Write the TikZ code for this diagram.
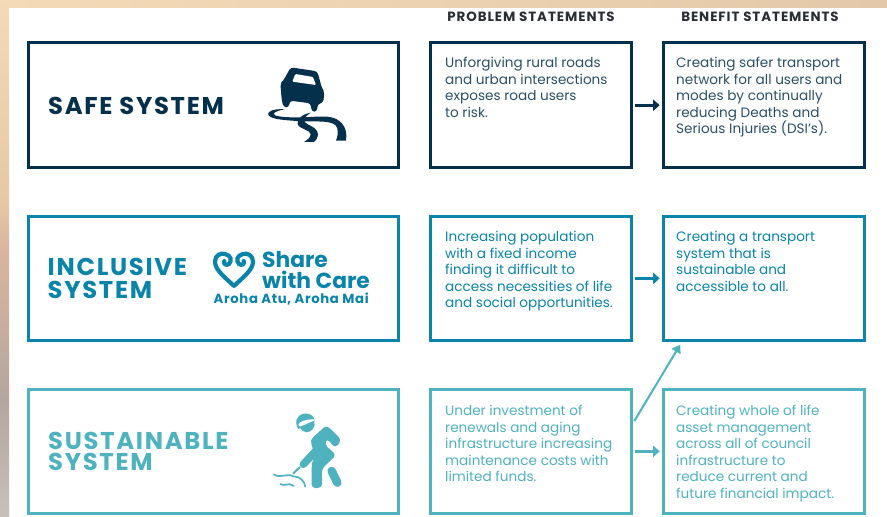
\documentclass[tikz,border=0pt]{standalone}
\usepackage{fontspec}
\setmainfont{Poppins}
\newfontfamily\titlefont[LetterSpace=7]{Poppins}
\newfontfamily\arohafont[LetterSpace=5]{Poppins}
\newfontfamily\headfont[LetterSpace=7]{Poppins}
\usetikzlibrary{arrows.meta}
\definecolor{navy}{HTML}{05304B}
\definecolor{bluec}{HTML}{0A84A8}
\definecolor{tealc}{HTML}{4FB3BF}
\definecolor{headc}{HTML}{2A2E33}
\definecolor{bga}{HTML}{F5DAB8}
\definecolor{bgb}{HTML}{E3C9A9}
\definecolor{bgc}{HTML}{E6C8A4}
\definecolor{bgd}{HTML}{D9B5A0}
\definecolor{bge}{HTML}{B4A69E}
\definecolor{bgf}{HTML}{C8C0BA}
\tikzset{
 box/.style={draw=#1,line width=3pt,fill=white,inner sep=0pt,outer sep=0pt},
 wide/.style={box=#1,minimum width=370pt,minimum height=124.5pt},
 small/.style={box=#1,minimum width=201pt,minimum height=124.5pt},
 body/.style={text=#1,anchor=north west,inner sep=0pt,align=left,font=\fontsize{13.6}{16.5}\selectfont},
 title/.style={text=#1,anchor=west,inner sep=0pt,align=left,font=\titlefont\fontsize{24.3}{22.5}\selectfont\bfseries},
 head/.style={text=headc,inner sep=0pt,font=\headfont\fontsize{13.4}{14}\selectfont\bfseries},
 conn/.style={draw=#1,line width=3pt,-{Triangle[length=6.5pt,width=11pt]},shorten <=3pt,shorten >=4pt},
 icon/.style={x=0.3333pt,y=-0.3333pt,shift={#1}}
}
\begin{document}
\begin{tikzpicture}[x=1pt,y=-1pt]
\useasboundingbox (0,0) rectangle (887,517);
% page backdrop
\fill[white] (0,0) rectangle (887,517);
\shade[left color=bga,right color=bgb] (0,0) rectangle (887,7);
\shade[top color=bga,bottom color=bgc] (0,0) rectangle (9,200);
\shade[top color=bgc,bottom color=bgd] (0,200) rectangle (9,250);
\shade[top color=bgd,bottom color=bge] (0,250) rectangle (9,400);
\shade[top color=bge,bottom color=bgf] (0,400) rectangle (9,517);
% boxes
\node[wide=navy] (s1) at (213.5,105.2) {};
\node[wide=bluec] (s2) at (213.5,278.4) {};
\node[wide=tealc] (s3) at (213.5,451.3) {};
\node[small=navy] (p1) at (531,105.2) {};
\node[small=bluec] (p2) at (531,278.4) {};
\node[small=tealc] (p3) at (531,451.3) {};
\node[small=navy] (b1) at (764.2,105.2) {};
\node[small=bluec] (b2) at (764.2,278.4) {};
\node[small=tealc] (b3) at (764.2,451.3) {};
% headers
\node[head] (h1) at (531,17) {PROBLEM STATEMENTS};
\node[head] (h2) at (760,17) {BENEFIT STATEMENTS};
% titles
\node[title=navy] (t1) at (48,106) {SAFE SYSTEM};
\node[title=bluec] (t2) at (47.5,278.5) {INCLUSIVE\\SYSTEM};
\node[title=tealc] (t3) at (48,451) {SUSTAINABLE\\[-1.5pt]SYSTEM};
% share with care
\node[text=bluec,anchor=west,inner sep=0pt,align=left,font=\fontsize{21.8}{21}\selectfont\bfseries] (sw) at (262,270.5) {Share\\with Care};
\node[text=bluec,anchor=west,inner sep=0pt,font=\arohafont\fontsize{13.2}{14}\selectfont\bfseries] (aa) at (213.5,299) {Aroha Atu, Aroha Mai};
% body text
\node[body=navy!85!white] (tp1) at (445,57) {Unforgiving rural roads\\and urban intersections\\exposes road users\\to risk.};
\node[body=navy!85!white] (tb1) at (676,57) {Creating safer transport\\network for all users and\\modes by continually\\reducing Deaths and\\Serious Injuries (DSI's).};
\node[body=bluec] (tp2) at (445,231) {Increasing population\\with a fixed income\\finding it difficult to\\access necessities of life\\and social opportunities.};
\node[body=bluec] (tb2) at (676,231) {Creating a transport\\system that is\\sustainable and\\accessible to all.};
\node[body=tealc] (tp3) at (445,405) {Under investment of\\renewals and aging\\infrastructure increasing\\maintenance costs with\\limited funds.};
\node[body=tealc] (tb3) at (676,405) {Creating whole of life\\asset management\\across all of council\\infrastructure to\\reduce current and\\future financial impact.};
% connectors
\draw[conn=navy] (p1.east) -- (b1.west);
\draw[conn=bluec] (p2.east) -- (b2.west);
\draw[conn=tealc] (p3.east) -- (b3.west);
\coordinate (ds) at ([shift={(2.8,32)}]p3.north east);
\coordinate (de) at ([shift={(16.5,4)}]b2.south west);
\draw[draw=tealc,line width=2pt,-{Triangle[length=8pt,width=10pt]}] (ds) -- (de);
% car icon
\begin{scope}[icon={(260pt,-60pt)}]
\fill[navy,rounded corners=3pt] (92,22) -- (172,34) -- (186,85) -- (193,95) -- (190,128) -- (173,132) -- (171,155) -- (155,155) -- (152,130) -- (90,122) -- (86,143) -- (70,141) -- (65,118) -- (61,70) -- (70,62) -- cycle;
\fill[white,rounded corners=1pt] (106,42) -- (159,51) -- (168,75) -- (97,65) -- cycle;
\fill[navy] (75,148) .. controls (40,145) and (20,155) .. (25,165) .. controls (35,180) and (80,180) .. (120,184) .. controls (170,186) and (225,178) .. (232,205) .. controls (235,220) and (232,232) .. (228,242) -- (258,242) .. controls (265,200) and (240,172) .. (200,170) .. controls (170,168) and (130,174) .. (100,172) .. controls (70,172) and (35,168) .. (42,160) .. controls (45,155) and (60,150) .. (75,148) -- cycle;
\fill[navy] (152,158) .. controls (125,163) and (110,178) .. (113,192) .. controls (116,207) and (152,210) .. (152,222) .. controls (152,232) and (142,240) .. (132,246) -- (162,246) .. controls (178,232) and (178,215) .. (163,204) .. controls (148,194) and (133,190) .. (133,182) .. controls (133,172) and (142,165) .. (152,158) -- cycle;
\end{scope}
% heart icon
\begin{scope}[icon={(205pt,-240pt)}]
\draw[bluec,line width=4.2pt,line cap=round] (86,137) .. controls (60,112) and (30,90) .. (30,65) .. controls (30,45) and (48,38) .. (60,42) .. controls (78,46) and (82,62) .. (72,72) .. controls (64,78) and (54,72) .. (58,63);
\draw[bluec,line width=4.2pt,line cap=round] (88,137) .. controls (114,112) and (144,90) .. (144,65) .. controls (144,45) and (126,38) .. (114,42) .. controls (96,46) and (92,62) .. (102,72) .. controls (110,78) and (120,72) .. (116,63);
\end{scope}
% worker icon
\begin{scope}[icon={(265pt,-405pt)}]
\fill[tealc] (95,62) .. controls (88,35) and (110,22) .. (128,26) .. controls (142,28) and (150,40) .. (148,50) -- (100,72) -- cycle;
\fill[white] (100,60) .. controls (101,50) and (122,43) .. (146,43) -- (147,47) -- (105,65) -- cycle;
\fill[tealc] (105,68) -- (148,49) .. controls (153,65) and (141,80) .. (126,82) .. controls (116,82) and (109,76) .. (105,68) -- cycle;
\fill[tealc,rounded corners=4pt] (135,105) -- (185,60) -- (230,105) -- (210,130) -- (187,100) -- (178,118) -- (214,150) -- (170,192) -- (172,248) -- (140,250) -- (140,175) -- (150,150) -- cycle;
\draw[tealc,line width=7.5pt,line cap=round] (155,135) -- (115,178);
\draw[tealc,line width=2pt] (105,186) -- (84,206);
\draw[tealc,line width=8.5pt,line cap=round] (200,198) -- (217,233);
\draw[tealc,line width=1.7pt,line cap=round] (27,208) .. controls (45,222) and (65,203) .. (85,214) .. controls (105,214) and (118,228) .. (121,245);
\draw[tealc,line width=1.7pt,line cap=round] (46,237) .. controls (58,246) and (70,230) .. (86,243);
\end{scope}
\end{tikzpicture}
\end{document}
